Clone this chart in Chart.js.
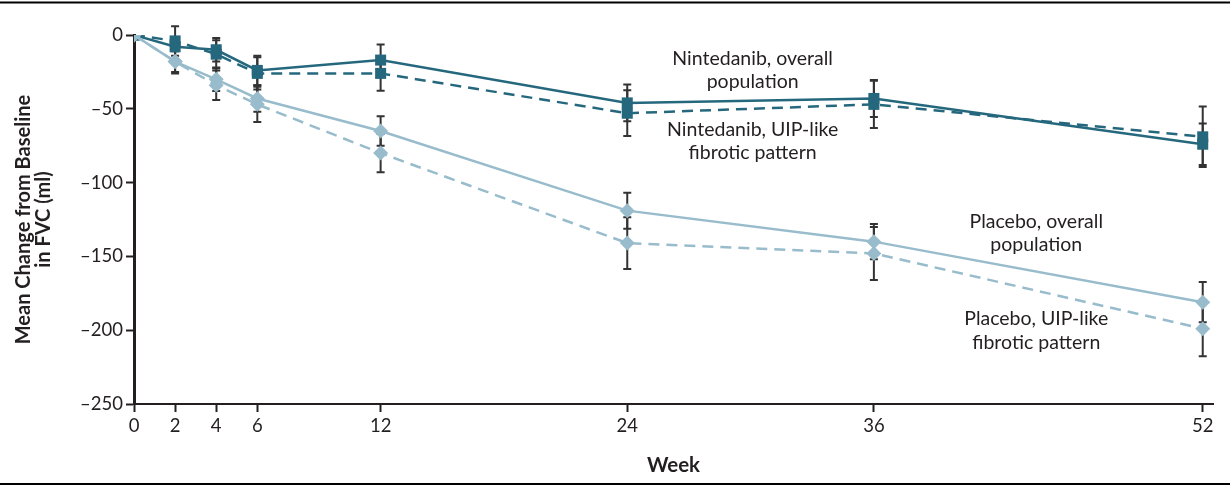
<!DOCTYPE html>
<html>
<head>
<meta charset="utf-8">
<script src="https://cdn.jsdelivr.net/npm/chart.js@4.4.1/dist/chart.umd.min.js"></script>
<style>
  html, body { margin: 0; padding: 0; background: #ffffff; }
  #wrap { position: relative; width: 1230px; height: 491px; }
</style>
</head>
<body>
<div id="wrap"><canvas id="fvc" width="1230" height="491"></canvas></div>
<script>
// Study weeks on the x axis
const weeks = [0, 2, 4, 6, 12, 24, 36, 52];

// Mean change from baseline in FVC (ml) and standard errors
const nintOverall   = [0, -8, -10, -24, -17, -46, -43, -74];
const nintOverallSE = [0, 0, 8, 10, 10.5, 12.5, 12.5, 14];
const nintUip       = [0, -4, -13, -26, -26, -53, -47, -69];
const nintUipSE     = [0, 10, 9.5, 11, 11.7, 15.5, 16, 20.5];
const placOverall   = [0, -18, -30, -43, -65, -119, -140, -181];
const placOverallSE = [0, 7, 8, 9, 10, 12.2, 12, 13.6];
const placUip       = [0, -18, -34, -47, -80, -141, -148, -199];
const placUipSE     = [0, 8, 10, 12, 13, 17.6, 18, 18.6];

// y axis tick values
const yTicks = [0, -50, -100, -150, -200, -250];

const INK = '#231f20';
const NINT = '#25687e';
const PLAC = '#98bccc';
const FONT = 'Lato, "Liberation Sans", sans-serif';

// Series labels placed beside the curves (week, ml)
const seriesNotes = [
  { lines: ['Nintedanib, overall', 'population'], at: [30.1, -16] },
  { lines: ['Nintedanib, UIP-like', 'fibrotic pattern'], at: [30.1, -64] },
  { lines: ['Placebo, overall', 'population'], at: [43.9, -126.5] },
  { lines: ['Placebo, UIP-like', 'fibrotic pattern'], at: [43.9, -192.5] }
];

function pts(vals) { return weeks.map((w, i) => ({ x: w, y: vals[i] })); }

const errorSets = [placOverallSE, placUipSE, nintOverallSE, nintUipSE];

// Vertical standard-error bars with caps
const errorBars = {
  id: 'errorBars',
  beforeDatasetsDraw(chart) {
    const { ctx, scales: { x, y } } = chart;
    ctx.save();
    ctx.strokeStyle = '#333333';
    ctx.lineWidth = 2;
    chart.data.datasets.forEach((ds, di) => {
      const se = errorSets[di];
      ds.data.forEach((p, i) => {
        if (!se[i]) return;
        const px = x.getPixelForValue(p.x);
        const t = y.getPixelForValue(p.y + se[i]);
        const b = y.getPixelForValue(p.y - se[i]);
        ctx.beginPath();
        ctx.moveTo(px, t); ctx.lineTo(px, b);
        ctx.moveTo(px - 4, t); ctx.lineTo(px + 4, t);
        ctx.moveTo(px - 4, b); ctx.lineTo(px + 4, b);
        ctx.stroke();
      });
    });
    ctx.restore();
  }
};

// Curve labels and the horizontal rules framing the figure
const notesAndRules = {
  id: 'notesAndRules',
  afterDraw(chart) {
    const { ctx, scales: { x, y }, width } = chart;
    ctx.save();
    ctx.fillStyle = INK;
    ctx.font = '19.5px ' + FONT;
    ctx.textAlign = 'center';
    ctx.textBaseline = 'middle';
    seriesNotes.forEach(n => {
      const cx = x.getPixelForValue(n.at[0]);
      const cy = y.getPixelForValue(n.at[1]);
      n.lines.forEach((t, k) => ctx.fillText(t, cx, cy + k * 23.5));
    });
    ctx.strokeStyle = '#000000';
    ctx.lineWidth = 2;
    ctx.beginPath();
    ctx.moveTo(0, 2.5); ctx.lineTo(width, 2.5);
    ctx.moveTo(0, 484); ctx.lineTo(width, 484);
    ctx.stroke();
    ctx.restore();
  }
};

new Chart(document.getElementById('fvc'), {
  type: 'line',
  data: {
    datasets: [
      { label: 'Placebo, overall population', data: pts(placOverall),
        borderColor: PLAC, backgroundColor: PLAC, borderWidth: 2.5,
        pointStyle: 'rectRot', pointRadius: 7.5, pointBorderWidth: 0 },
      { label: 'Placebo, UIP-like fibrotic pattern', data: pts(placUip),
        borderColor: PLAC, backgroundColor: PLAC, borderWidth: 2.5, borderDash: [11, 7],
        pointStyle: 'rectRot', pointRadius: 7.5, pointBorderWidth: 0 },
      { label: 'Nintedanib, overall population', data: pts(nintOverall),
        borderColor: NINT, backgroundColor: NINT, borderWidth: 2.5,
        pointStyle: 'rect', pointRadius: 7.8, pointBorderWidth: 0 },
      { label: 'Nintedanib, UIP-like fibrotic pattern', data: pts(nintUip),
        borderColor: NINT, backgroundColor: NINT, borderWidth: 2.5, borderDash: [11, 7],
        pointStyle: 'rect', pointRadius: 7.8, pointBorderWidth: 0 }
    ]
  },
  options: {
    responsive: false,
    animation: false,
    devicePixelRatio: 1,
    layout: { padding: { top: 35, right: 17, bottom: 0, left: 0 } },
    plugins: { legend: { display: false }, tooltip: { enabled: false } },
    elements: { line: { tension: 0 } },
    scales: {
      x: {
        type: 'linear', min: 0, max: 52.5,
        afterBuildTicks: s => { s.ticks = weeks.map(v => ({ value: v })); },
        afterFit: s => { s.height = 87; },
        ticks: { autoSkip: false, maxRotation: 0, color: INK, padding: 3,
                 font: { family: FONT, size: 18.5 } },
        grid: { drawOnChartArea: false, drawTicks: true, tickLength: 8, tickWidth: 2, tickColor: INK },
        border: { display: true, color: INK, width: 2 },
        title: { display: true, text: 'Week', color: INK,
                 font: { family: FONT, size: 20.5, weight: 'bold', lineHeight: 1.2 },
                 padding: { top: 0, bottom: 13.5 } }
      },
      y: {
        type: 'linear', min: -250, max: 0,
        afterBuildTicks: s => { s.ticks = yTicks.map(v => ({ value: v })); },
        afterFit: s => { s.width = 134; },
        ticks: { color: INK, padding: 3, font: { family: FONT, size: 18.5 },
                 callback: v => v < 0 ? '\u2013' + Math.abs(v) : String(v) },
        grid: { drawOnChartArea: false, drawTicks: true, tickLength: 8, tickWidth: 2, tickColor: INK },
        border: { display: true, color: INK, width: 3 },
        title: { display: true, text: ['Mean Change from Baseline', 'in FVC (ml)'], color: INK,
                 font: { family: FONT, size: 20, weight: 'bold', lineHeight: 1.0 },
                 padding: { top: 14, bottom: 0 } }
      }
    }
  },
  plugins: [errorBars, notesAndRules]
});
</script>
</body>
</html>
